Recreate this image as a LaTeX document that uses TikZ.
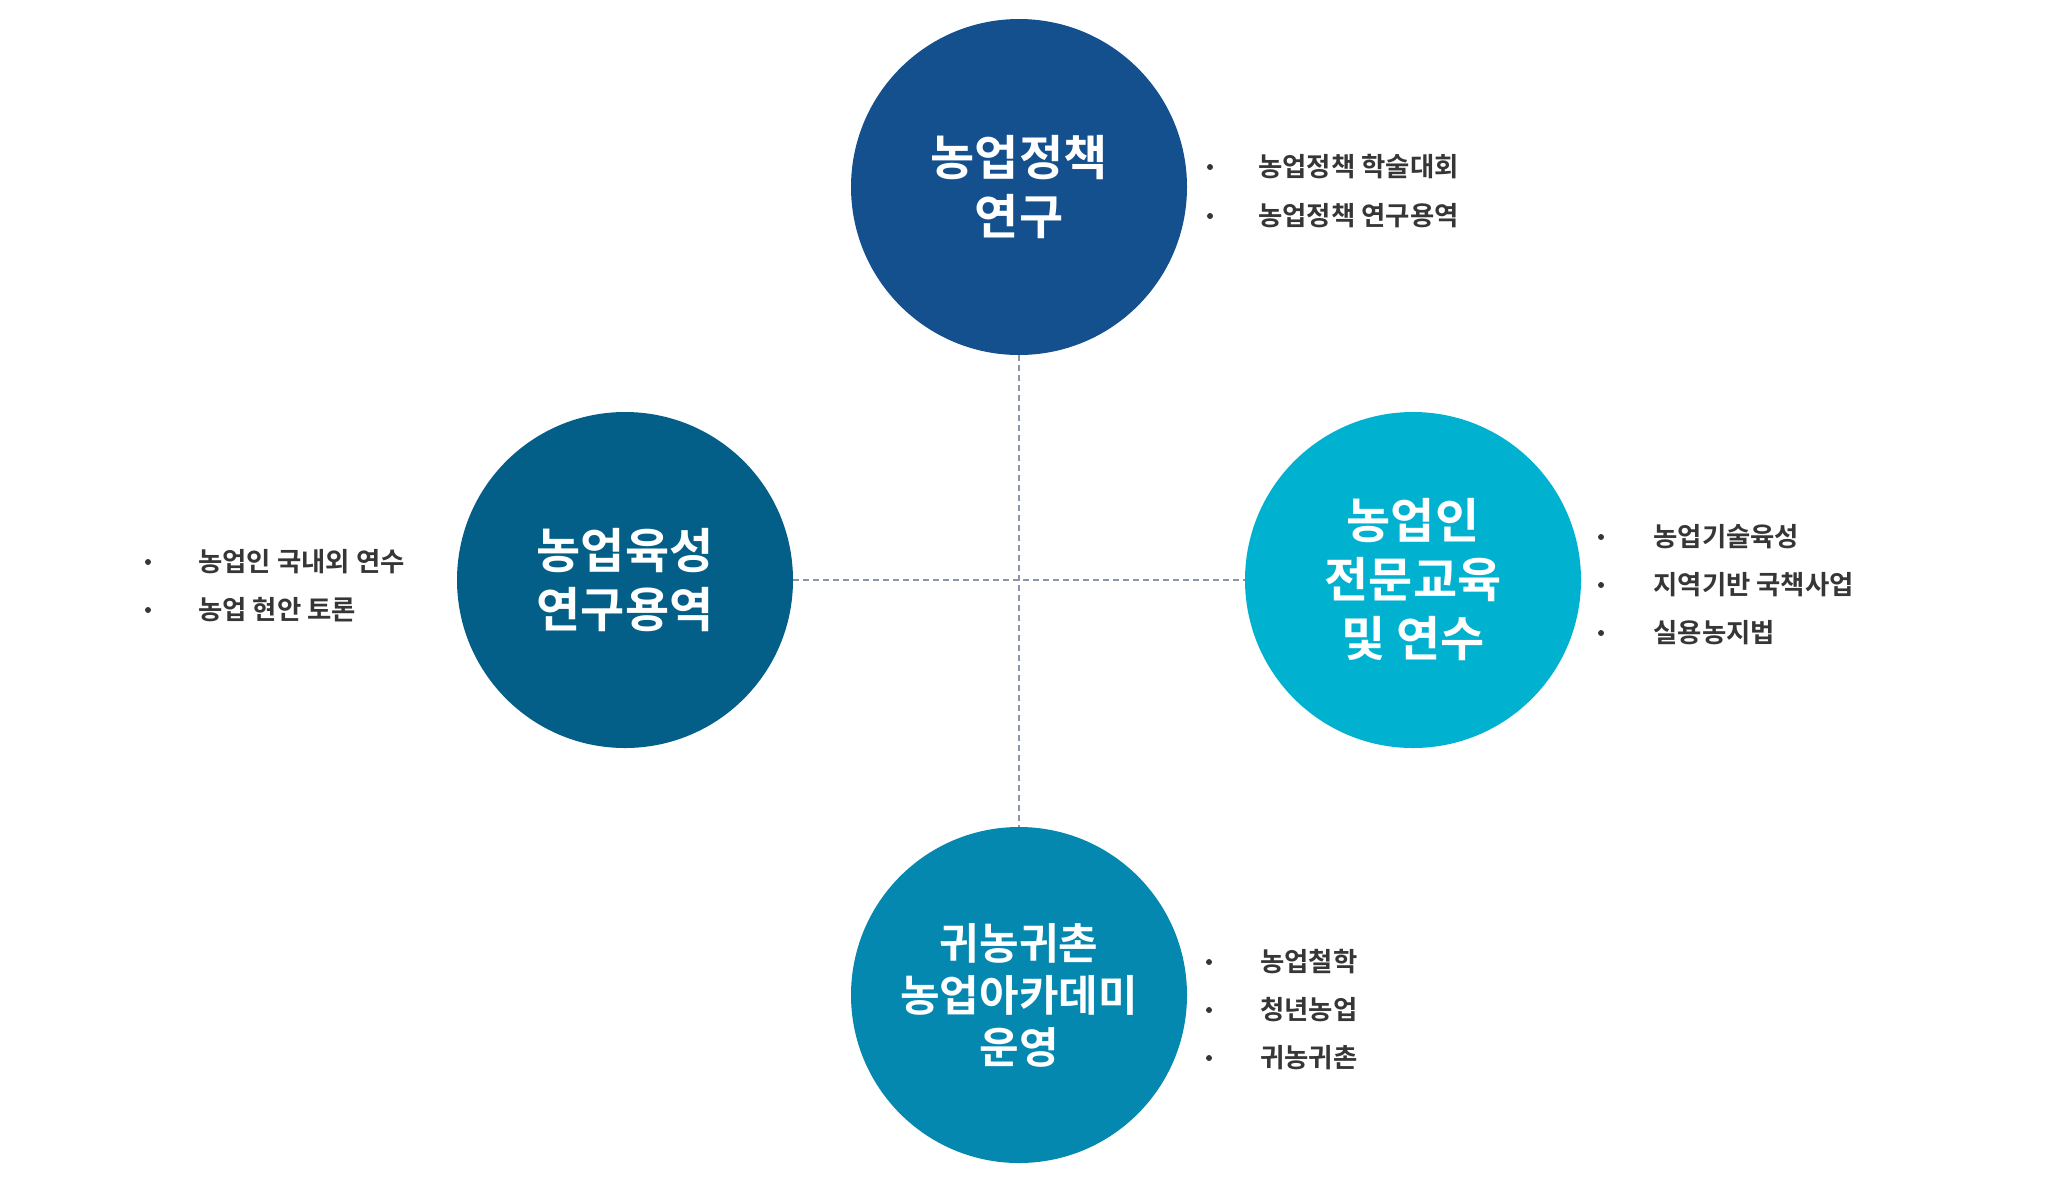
\documentclass[tikz,border=0pt]{standalone}
\usepackage{fontspec}
\setmainfont{Noto Sans CJK KR}[BoldFont={* Bold}]
\newfontfamily\krbold{Noto Sans CJK KR Bold}
\definecolor{ctop}{HTML}{13508D}
\definecolor{cleft}{HTML}{035F88}
\definecolor{cright}{HTML}{00B2D0}
\definecolor{cbot}{HTML}{0588B0}
\definecolor{ctext}{HTML}{363636}
\definecolor{cline}{HTML}{8A95A8}
\tikzset{
  hub/.style={circle, inner sep=0pt, minimum size=168pt, text=white,
    font=\krbold\fontsize{24pt}{29.5pt}\selectfont, align=center},
  hubsmall/.style={hub, font=\krbold\fontsize{21.5pt}{26pt}\selectfont},
  item/.style={anchor=west, inner sep=0pt, text=ctext,
    font=\krbold\fontsize{13.2pt}{15pt}\selectfont},
  dot/.style={circle, fill=ctext, inner sep=0pt, minimum size=3pt},
  guide/.style={draw=cline, line width=0.75pt, dash pattern=on 3pt off 2pt}
}
\begin{document}
\begin{tikzpicture}[x=0.5pt,y=-0.5pt]
\useasboundingbox (0,0) rectangle (2048,1185);
% hubs
\node[hub, fill=ctop]   (top)   at (1019,187) {농업정책\\연구};
\node[hub, fill=cleft]  (left)  at (625,580)  {농업육성\\연구용역};
\node[hub, fill=cright] (right) at (1413,580) {농업인\\전문교육\\및 연수};
\node[hubsmall, fill=cbot] (bot) at (1019,995) {귀농귀촌\\농업아카데미\\운영};
% guides
\draw[guide] (top.south) -- (bot.north);
\draw[guide] (left.east) -- (right.west);
% top items
\node[dot] (td1) at (1210,167) {};
\node[item] (t1) at (1258,167) {농업정책 학술대회};
\node[dot] (td2) at (1210,216) {};
\node[item] (t2) at (1258,216) {농업정책 연구용역};
% left items
\node[dot] (ld1) at (148,562) {};
\node[item] (l1) at (198,562) {농업인 국내외 연수};
\node[dot] (ld2) at (148,610) {};
\node[item] (l2) at (198,610) {농업 현안 토론};
% right items
\node[dot] (rd1) at (1601,537) {};
\node[item] (r1) at (1653,537) {농업기술육성};
\node[dot] (rd2) at (1601,585) {};
\node[item] (r2) at (1653,585) {지역기반 국책사업};
\node[dot] (rd3) at (1601,633) {};
\node[item] (r3) at (1653,633) {실용농지법};
% bottom items
\node[dot] (bd1) at (1209,962) {};
\node[item] (b1) at (1260,962) {농업철학};
\node[dot] (bd2) at (1209,1010) {};
\node[item] (b2) at (1260,1010) {청년농업};
\node[dot] (bd3) at (1209,1058) {};
\node[item] (b3) at (1260,1058) {귀농귀촌};
\end{tikzpicture}
\end{document}
